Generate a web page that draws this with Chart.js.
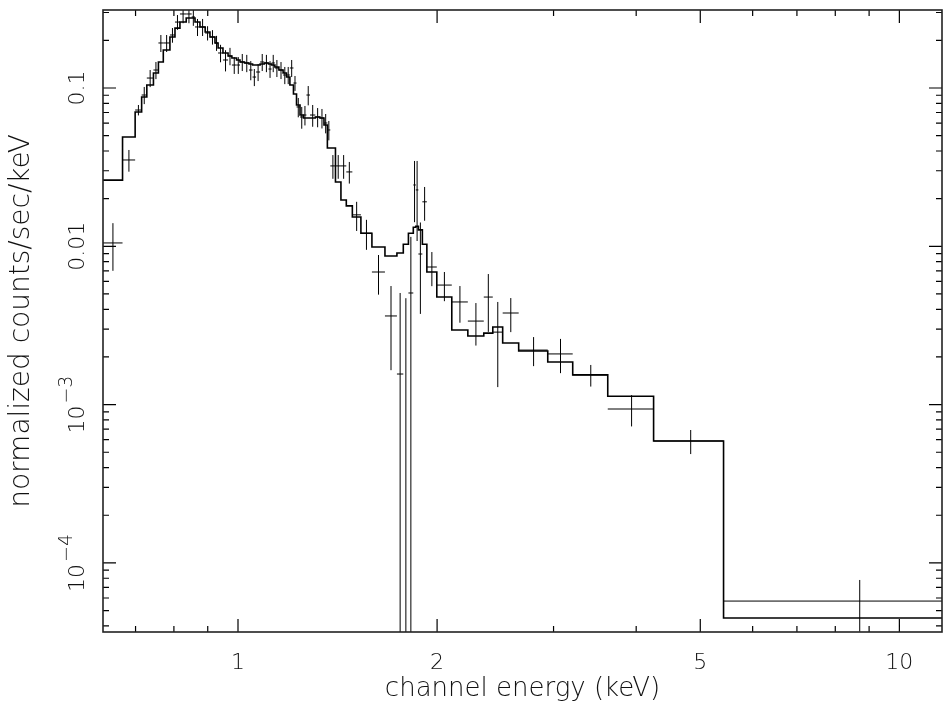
<!DOCTYPE html>
<html>
<head>
<meta charset="utf-8">
<script src="https://cdn.jsdelivr.net/npm/chart.js@4.4.1/dist/chart.umd.min.js"></script>
<style>
  html, body { margin: 0; padding: 0; background: #fff; }
</style>
</head>
<body>
<canvas id="spec" width="943" height="706"></canvas>
<script>
// channel bins (keV), 75 bins -> 76 edges
const binEdges = [0.625, 0.669, 0.699, 0.715, 0.728, 0.745, 0.758, 0.771, 0.789, 0.803,
  0.817, 0.835, 0.851, 0.861, 0.876, 0.892, 0.907, 0.923, 0.933, 0.949,
  0.966, 0.979, 0.995, 1.007, 1.023, 1.039, 1.052, 1.065, 1.080, 1.096,
  1.112, 1.124, 1.137, 1.153, 1.170, 1.184, 1.198, 1.213, 1.226, 1.241,
  1.256, 1.269, 1.285, 1.309, 1.330, 1.349, 1.365, 1.379, 1.404, 1.431,
  1.458, 1.489, 1.534, 1.594, 1.668, 1.739, 1.778, 1.810, 1.841, 1.857,
  1.874, 1.900, 1.930, 1.998, 2.105, 2.226, 2.353, 2.428, 2.513, 2.657,
  2.940, 3.207, 3.623, 4.250, 5.422, 12.0];

// folded model, counts/sec/keV per bin
const modelCounts = [0.0262, 0.0490, 0.0705, 0.0877, 0.1044, 0.1244, 0.1460, 0.1738, 0.210, 0.239,
  0.261, 0.277, 0.277, 0.261, 0.243, 0.226, 0.210, 0.1925, 0.1789, 0.1664,
  0.1593, 0.1547, 0.1503, 0.1460, 0.1439, 0.1418, 0.1397, 0.1397, 0.1418, 0.1439,
  0.1418, 0.1397, 0.1357, 0.1299, 0.1244, 0.1173, 0.1044, 0.0917, 0.0781, 0.0675,
  0.0646, 0.0646, 0.0646, 0.0656, 0.0646, 0.0584, 0.0418, 0.0418, 0.0255, 0.0196,
  0.0180, 0.0153, 0.0121, 0.0099, 0.00868, 0.00907, 0.0103, 0.0121, 0.0132, 0.0134,
  0.0127, 0.0103, 0.00688, 0.00478, 0.00296, 0.00271, 0.00283, 0.00309, 0.00245, 0.00218,
  0.00186, 0.00154, 0.00113, 0.000589, 0.0000449];

// observed data per bin and 1-sigma error
const dataCounts = [0.0105, 0.0351, 0.0726, 0.0903, 0.1156, 0.1299, 0.1925, 0.1925, 0.2162, 0.261,
  0.2935, 0.2935, 0.281, 0.243, 0.243, 0.2226, 0.210, 0.1925, 0.1664, 0.1503,
  0.1593, 0.1397, 0.1397, 0.1460, 0.1439, 0.1299, 0.1173, 0.1262, 0.1460, 0.1439,
  0.1318, 0.1439, 0.1338, 0.1299, 0.1208, 0.1208, 0.1338, 0.1075, 0.0759, 0.0656,
  0.0675, 0.0903, 0.0675, 0.0656, 0.0646, 0.0601, 0.0543, 0.0322, 0.0322, 0.0322,
  0.0295, 0.0158, 0.0121, 0.00688, 0.00363, 0.00156, -0.0010, 0.00507, 0.0244, 0.0227,
  0.00894, 0.0191, 0.00740, 0.00569, 0.00445, 0.00337, 0.00478, 0.00287, 0.00379, 0.00221,
  0.00209, 0.00154, 0.000938, 0.000589, 0.0000574];

const dataErrors = [0.0035, 0.0055, 0.0055, 0.0112, 0.0143, 0.0161, 0.0237, 0.0237, 0.023, 0.028,
  0.037, 0.037, 0.034, 0.030, 0.030, 0.023, 0.022, 0.021, 0.021, 0.023,
  0.020, 0.017, 0.017, 0.018, 0.018, 0.018, 0.0145, 0.0156, 0.018, 0.018,
  0.016, 0.018, 0.0165, 0.016, 0.015, 0.015, 0.0165, 0.0116, 0.0106, 0.0103,
  0.0095, 0.0126, 0.0106, 0.0091, 0.0091, 0.0084, 0.0076, 0.0055, 0.0055, 0.0055,
  0.0046, 0.0033, 0.0026, 0.00193, 0.00198, 0.00351, 0.0057, 0.0064, 0.0102, 0.0119,
  0.0052, 0.0046, 0.0018, 0.00119, 0.00116, 0.00101, 0.0019, 0.00158, 0.00092, 0.00046,
  0.00051, 0.00024, 0.00021, 0.000102, 0.0000206];

const xRange = [0.625, 11.6];
const yRange = [0.0000366, 0.311];
const xTickValues = [1, 2, 5, 10];
const xMinorTicks = [0.7, 0.8, 0.9, 3, 4, 6, 7, 8, 9];
const yTickValues = [0.1, 0.01, 0.001, 0.0001];
const yTickLabels = [['0.1', ''], ['0.01', ''], ['10', '\u22123'], ['10', '\u22124']];

const FONT = "'DejaVu Sans', sans-serif";

// model as a histogram: each edge carries the value of the bin to its right
const modelPoints = binEdges.slice(0, -1).map((e, i) => ({ x: e, y: modelCounts[i] }));
modelPoints.push({ x: binEdges[binEdges.length - 1], y: modelCounts[modelCounts.length - 1] });

// data crosses: horizontal = bin width, vertical = error bar
const crossPoints = [];
dataCounts.forEach((v, i) => {
  const lo = binEdges[i], hi = binEdges[i + 1], mid = (lo + hi) / 2;
  const err = dataErrors[i];
  if (v > 0) {
    crossPoints.push({ x: lo, y: v }, { x: hi, y: v }, { x: mid, y: null });
  }
  crossPoints.push({ x: mid, y: Math.max(v - err, 1e-7) }, { x: mid, y: v + err }, { x: mid, y: null });
});

const frameTicks = {
  id: 'frameTicks',
  afterDatasetsDraw(chart) {
    const { ctx, chartArea: a, scales: { x, y } } = chart;
    ctx.save();
    ctx.strokeStyle = '#000';
    ctx.lineWidth = 1.2;
    ctx.beginPath();
    const tick = (px, py, dx, dy) => { ctx.moveTo(px, py); ctx.lineTo(px + dx, py + dy); };
    xTickValues.forEach(v => {
      const p = x.getPixelForValue(v);
      tick(p, a.bottom, 0, -13); tick(p, a.top, 0, 13);
    });
    xMinorTicks.forEach(v => {
      const p = x.getPixelForValue(v);
      tick(p, a.bottom, 0, -6); tick(p, a.top, 0, 6);
    });
    for (let d = -5; d <= -1; d++) {
      for (let m = 1; m <= 9; m++) {
        const v = m * Math.pow(10, d);
        if (v < y.min || v > y.max) continue;
        const p = y.getPixelForValue(v);
        const len = m === 1 ? 13 : 6;
        tick(a.left, p, len, 0); tick(a.right, p, -len, 0);
      }
    }
    ctx.stroke();
    ctx.strokeStyle = '#222';
    ctx.lineWidth = 1.6;
    ctx.strokeRect(a.left, a.top, a.right - a.left, a.bottom - a.top);

    // y tick labels, rotated like the axis title
    ctx.fillStyle = '#111';
    ctx.textBaseline = 'alphabetic';
    ctx.textAlign = 'left';
    yTickValues.forEach((v, i) => {
      const [base, sup] = yTickLabels[i];
      const p = y.getPixelForValue(v);
      ctx.save();
      ctx.translate(84, p);
      ctx.rotate(-Math.PI / 2);
      ctx.font = '200 22px ' + FONT;
      const w1 = ctx.measureText(base).width;
      ctx.font = '200 19px ' + FONT;
      const w2 = sup ? ctx.measureText(sup).width + 2 : 0;
      const x0 = -(w1 + w2) / 2;
      ctx.font = '200 22px ' + FONT;
      ctx.fillText(base, x0, 0);
      if (sup) {
        ctx.font = '200 19px ' + FONT;
        ctx.fillText(sup, x0 + w1 + 2, -12);
      }
      ctx.restore();
    });
    ctx.restore();
  }
};

function createChart() {
  const ctx = document.getElementById('spec');
  new Chart(ctx, {
    type: 'scatter',
    data: {
      datasets: [{
        label: 'model',
        data: modelPoints,
        showLine: true,
        stepped: true,
        borderColor: '#000',
        borderWidth: 1.6,
        pointRadius: 0,
        fill: false
      }, {
        label: 'data',
        data: crossPoints,
        showLine: true,
        spanGaps: false,
        borderColor: '#000',
        borderWidth: 1,
        pointRadius: 0,
        fill: false
      }]
    },
    options: {
      responsive: false,
      animation: false,
      devicePixelRatio: 1,
      layout: { padding: { top: 10, right: 1, left: 0, bottom: 0 } },
      plugins: { legend: { display: false }, tooltip: { enabled: false } },
      scales: {
        x: {
          type: 'logarithmic',
          position: 'bottom',
          bounds: 'data',
          min: xRange[0],
          max: xRange[1],
          grid: { display: false },
          border: { display: false },
          afterBuildTicks: (scale) => {
            scale.ticks = xTickValues.map(v => ({ value: v }));
            scale.min = xRange[0];
            scale.max = xRange[1];
          },
          afterFit: (scale) => { scale.height = 74; },
          ticks: {
            autoSkip: false,
            maxRotation: 0,
            padding: 10,
            color: '#111',
            font: { family: FONT, size: 22, weight: '200' },
            callback: (v) => String(v)
          },
          title: {
            display: true,
            text: 'channel energy (keV)',
            color: '#111',
            font: { family: FONT, size: 26, weight: '200', lineHeight: 1.2 },
            padding: { top: 0, bottom: 1 }
          }
        },
        y: {
          type: 'logarithmic',
          position: 'left',
          bounds: 'data',
          min: yRange[0],
          max: yRange[1],
          grid: { display: false },
          border: { display: false },
          ticks: { display: false },
          afterBuildTicks: (scale) => {
            scale.min = yRange[0];
            scale.max = yRange[1];
          },
          afterFit: (scale) => { scale.width = 103; },
          title: {
            display: true,
            text: 'normalized counts/sec/keV',
            color: '#111',
            font: { family: FONT, size: 28, weight: '200', lineHeight: 1.2 },
            padding: { top: 5, bottom: 0 }
          }
        }
      }
    },
    plugins: [frameTicks]
  });
}
createChart();
</script>
</body>
</html>
